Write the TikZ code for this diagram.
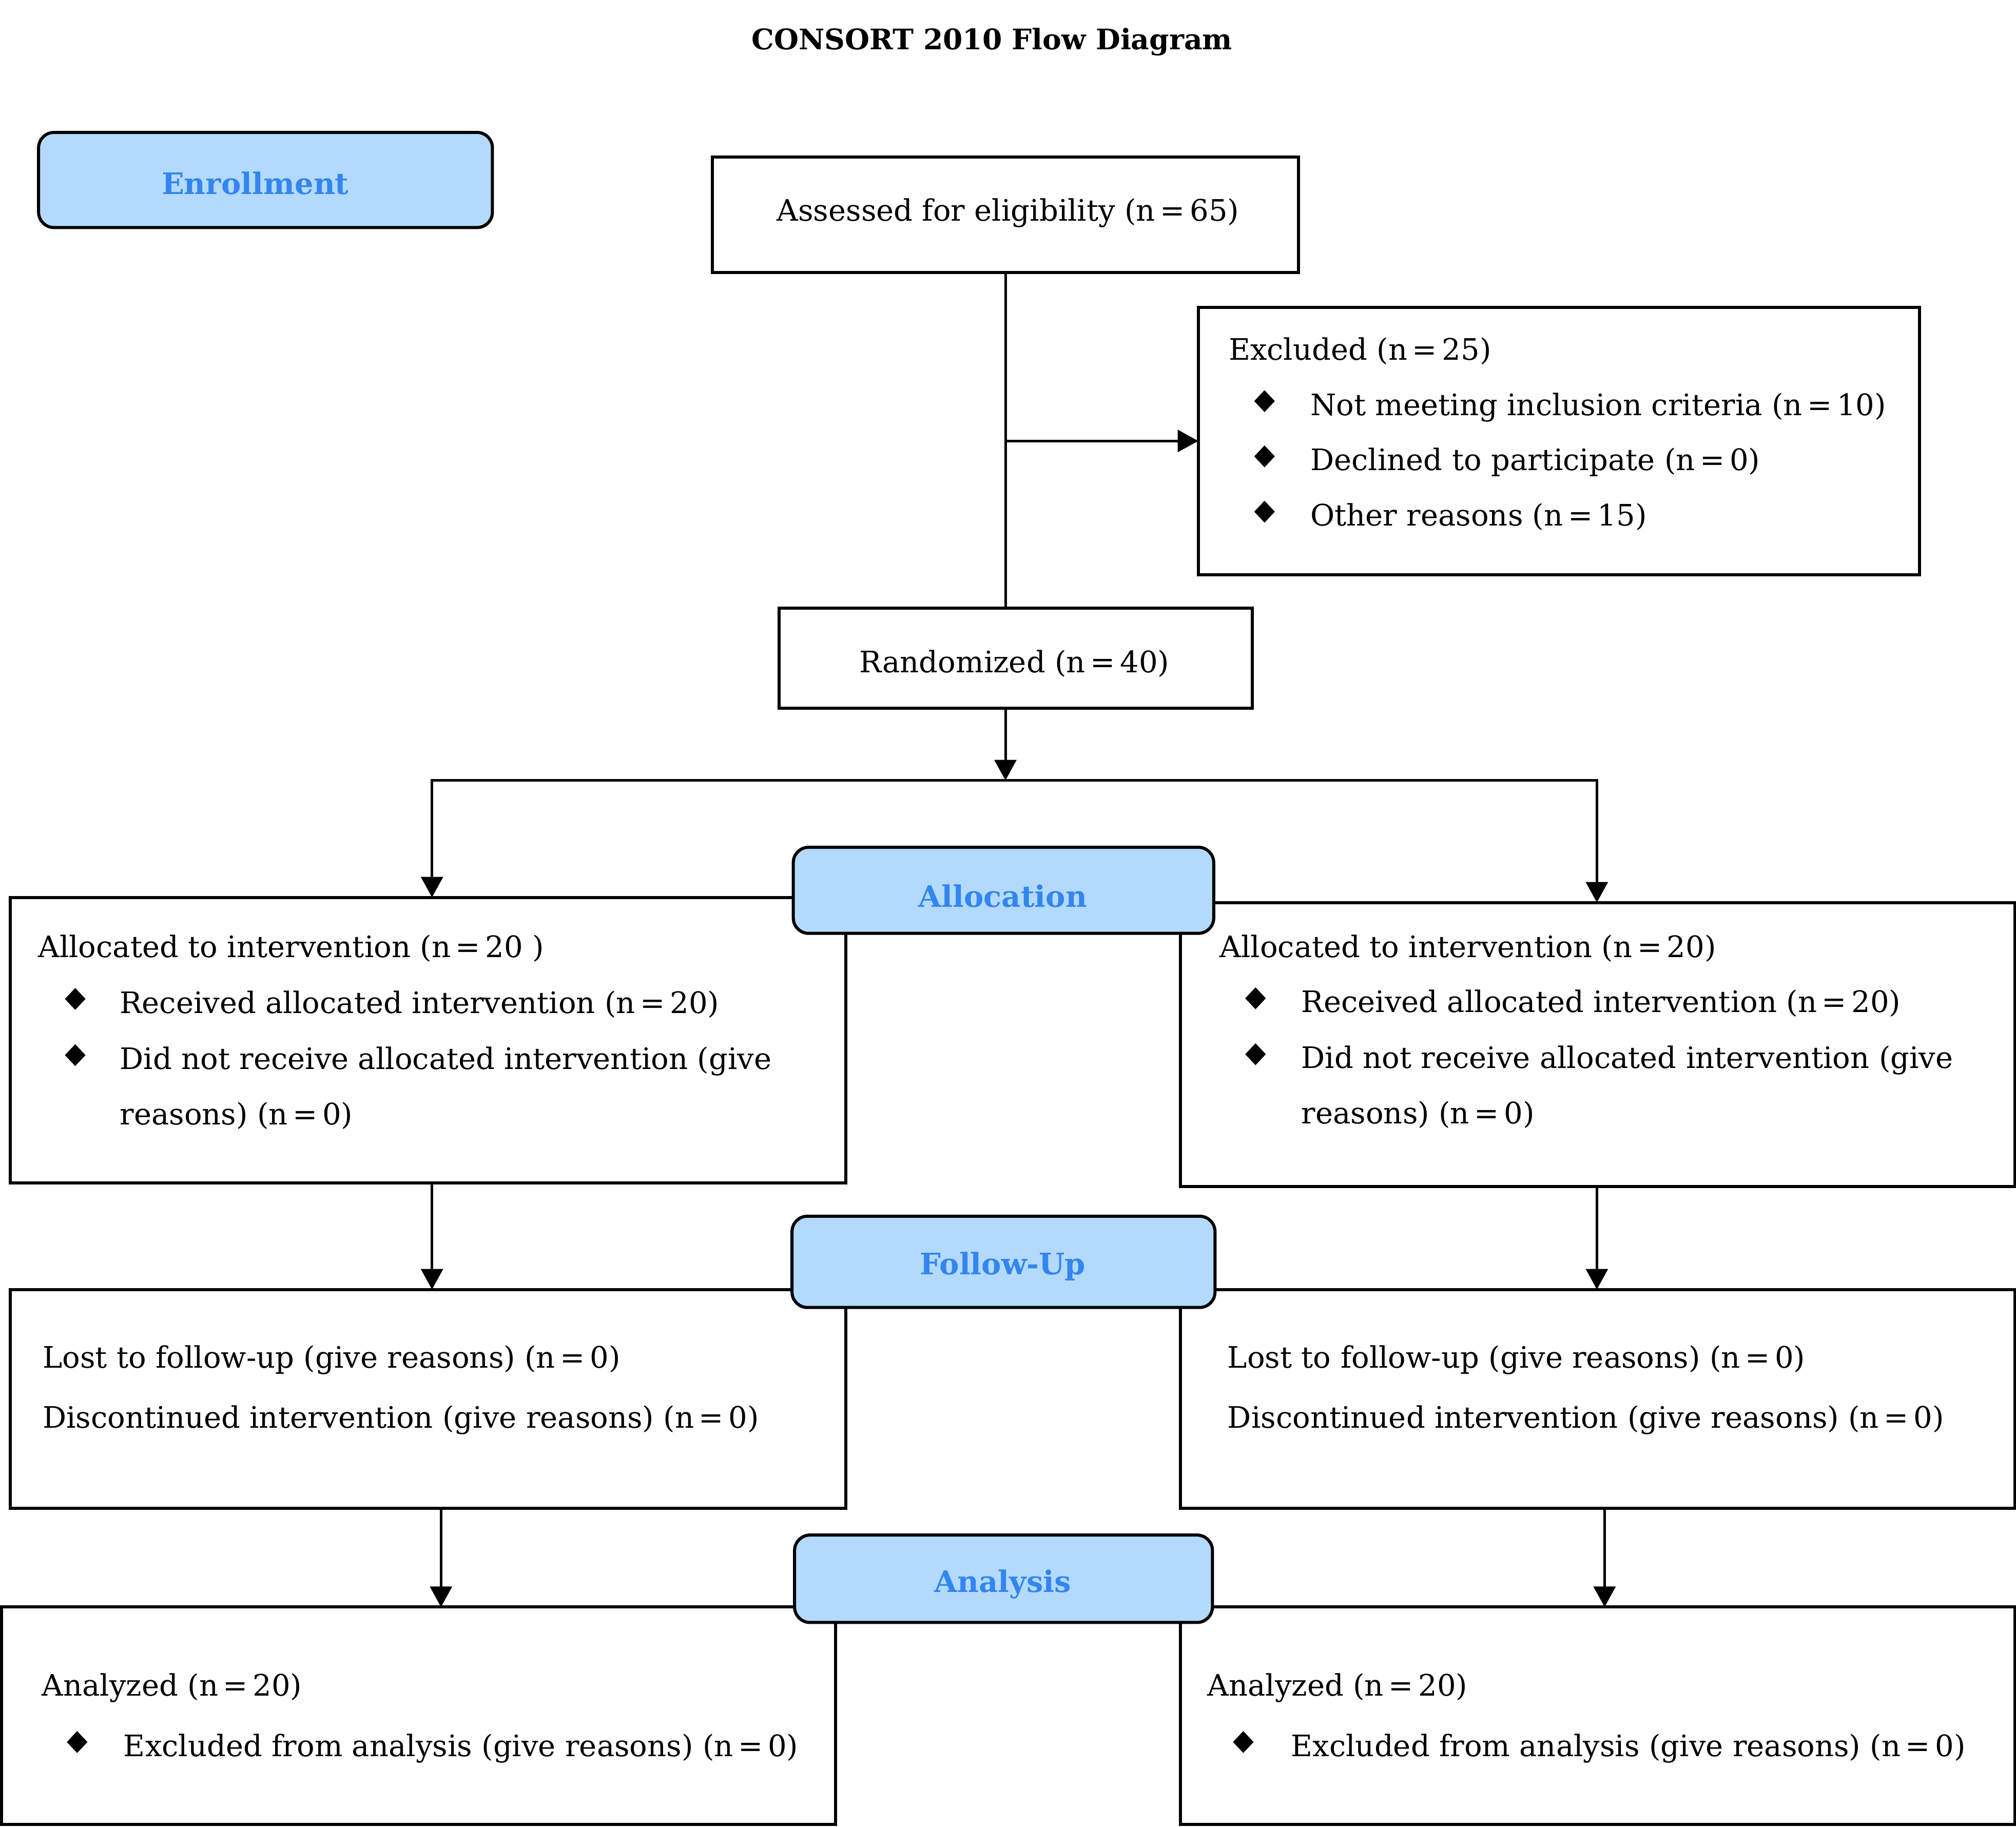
\documentclass[tikz,border=0pt]{standalone}
\usepackage{fontspec}
\setmainfont{DejaVu Serif}
\usetikzlibrary{arrows.meta}
\definecolor{lblue}{RGB}{179,218,252}
\definecolor{tblue}{RGB}{51,133,240}
\newcommand{\dia}[2]{\fill ({#1},{#2-19.5}) -- ({#1+8},{#2-11}) -- ({#1},{#2-2.5}) -- ({#1-8},{#2-11}) -- cycle;}
\newcommand{\eqs}{\,=\,}
\begin{document}
\begin{tikzpicture}[x=1pt,y=-1pt,
  box/.style={draw,line width=2.4pt,inner sep=0pt,outer sep=0pt,anchor=north west},
  lbl/.style={draw,line width=2.4pt,fill=lblue,rounded corners=12pt,inner sep=0pt,outer sep=0pt,anchor=north west},
  txt/.style={anchor=base west,inner sep=0pt,font=\fontsize{23}{28}\selectfont},
  ctxt/.style={anchor=base,inner sep=0pt,font=\fontsize{23}{28}\selectfont},
  ltxt/.style={anchor=base,inner sep=0pt,text=tblue,font=\fontsize{23}{28}\selectfont\bfseries},
  conn/.style={line width=2pt,line cap=rect},
  arr/.style={line width=2pt,-{Triangle[length=16pt,width=17pt]}}
]
\useasboundingbox (0,0) rectangle (1568,1421);

% title
\node[anchor=base,inner sep=0pt,font=\fontsize{22}{26}\selectfont\bfseries] (title) at (771.5,38.6) {CONSORT 2010 Flow Diagram};

% main boxes
\node[box,minimum width=456pt,minimum height=90pt] (assess) at (554,122) {};
\node[box,minimum width=561pt,minimum height=208pt] (excl) at (932,239) {};
\node[box,minimum width=368pt,minimum height=78pt] (rand) at (606,473) {};
\node[box,minimum width=650pt,minimum height=222pt] (allocL) at (8,698) {};
\node[box,minimum width=649pt,minimum height=221pt] (allocR) at (918,702) {};
\node[box,minimum width=650pt,minimum height=170pt] (followL) at (8,1003) {};
\node[box,minimum width=649pt,minimum height=170pt] (followR) at (918,1003) {};
\node[box,minimum width=649pt,minimum height=169pt] (anaL) at (1,1250) {};
\node[box,minimum width=649pt,minimum height=169pt] (anaR) at (918,1250) {};

% connectors
\draw[conn] (assess.south) -- (assess.south |- rand.north);
\draw[arr] (assess.south |- excl.west) -- (excl.west);
\coordinate (split) at (782,607);
\coordinate (sl) at (336,607);
\coordinate (sr) at (1242,607);
\draw[arr] (assess.south |- rand.south) -- (split);
\draw[conn] (sl) -- (sr);
\draw[arr] (sl) -- (sl |- allocL.north);
\draw[arr] (sr) -- (sr |- allocR.north);
\draw[arr] (sl |- allocL.south) -- (sl |- followL.north);
\draw[arr] (sr |- allocR.south) -- (sr |- followR.north);
\coordinate (al) at (343,1173);
\coordinate (ar) at (1248,1173);
\draw[arr] (al |- followL.south) -- (al |- anaL.north);
\draw[arr] (ar |- followR.south) -- (ar |- anaR.north);

% stage labels
\node[lbl,minimum width=353pt,minimum height=74pt] (enroll) at (30,103) {};
\node[lbl,minimum width=327pt,minimum height=67pt] (alloc) at (617,659) {};
\node[lbl,minimum width=329pt,minimum height=71pt] (follow) at (616,946) {};
\node[lbl,minimum width=325pt,minimum height=68pt] (analysis) at (618,1194) {};
\node[ltxt] (tenroll) at (198.5,151) {Enrollment};
\node[ltxt] (talloc) at (780,705.6) {Allocation};
\node[ltxt] (tfollow) at (780,991.5) {Follow-Up};
\node[ltxt] (tanalysis) at (780,1238.5) {Analysis};

% texts
\node[ctxt] (t1) at (784,172) {Assessed for eligibility (n\eqs 65)};
\node[txt] (t2) at (955.5,280) {Excluded (n\eqs 25)};
\node[txt] (t3) at (1019,323) {Not meeting inclusion criteria (n\eqs 10)};
\node[txt] (t4) at (1019,366) {Declined to participate (n\eqs 0)};
\node[txt] (t5) at (1019,409) {Other reasons (n\eqs 15)};
\dia{983.5}{323} \dia{983.5}{366} \dia{983.5}{409}
\node[ctxt] (t6) at (789,523) {Randomized (n\eqs 40)};

\node[txt] (t7) at (29.5,744.6) {Allocated to intervention (n\eqs 20 )};
\node[txt] (t8) at (93,788) {Received allocated intervention (n\eqs 20)};
\node[txt] (t9) at (93,831.7) {Did not receive allocated intervention (give};
\node[txt] (t10) at (93,875) {reasons) (n\eqs 0)};
\dia{58.5}{788} \dia{58.5}{831.7}

\node[txt] (t11) at (948.5,744.5) {Allocated to intervention (n\eqs 20)};
\node[txt] (t12) at (1012,787.5) {Received allocated intervention (n\eqs 20)};
\node[txt] (t13) at (1012,831) {Did not receive allocated intervention (give};
\node[txt] (t14) at (1012,874) {reasons) (n\eqs 0)};
\dia{976.5}{787.5} \dia{976.5}{831}

\node[txt] (t15) at (33,1064) {Lost to follow-up (give reasons) (n\eqs 0)};
\node[txt] (t16) at (33,1110.6) {Discontinued intervention (give reasons) (n\eqs 0)};
\node[txt] (t17) at (954.6,1064) {Lost to follow-up (give reasons) (n\eqs 0)};
\node[txt] (t18) at (954.6,1110.6) {Discontinued intervention (give reasons) (n\eqs 0)};

\node[txt] (t19) at (32.5,1319) {Analyzed (n\eqs 20)};
\node[txt] (t20) at (96,1366) {Excluded from analysis (give reasons) (n\eqs 0)};
\dia{60}{1366}
\node[txt] (t21) at (939,1319) {Analyzed (n\eqs 20)};
\node[txt] (t22) at (1004,1366) {Excluded from analysis (give reasons) (n\eqs 0)};
\dia{967}{1366}
\end{tikzpicture}
\end{document}
